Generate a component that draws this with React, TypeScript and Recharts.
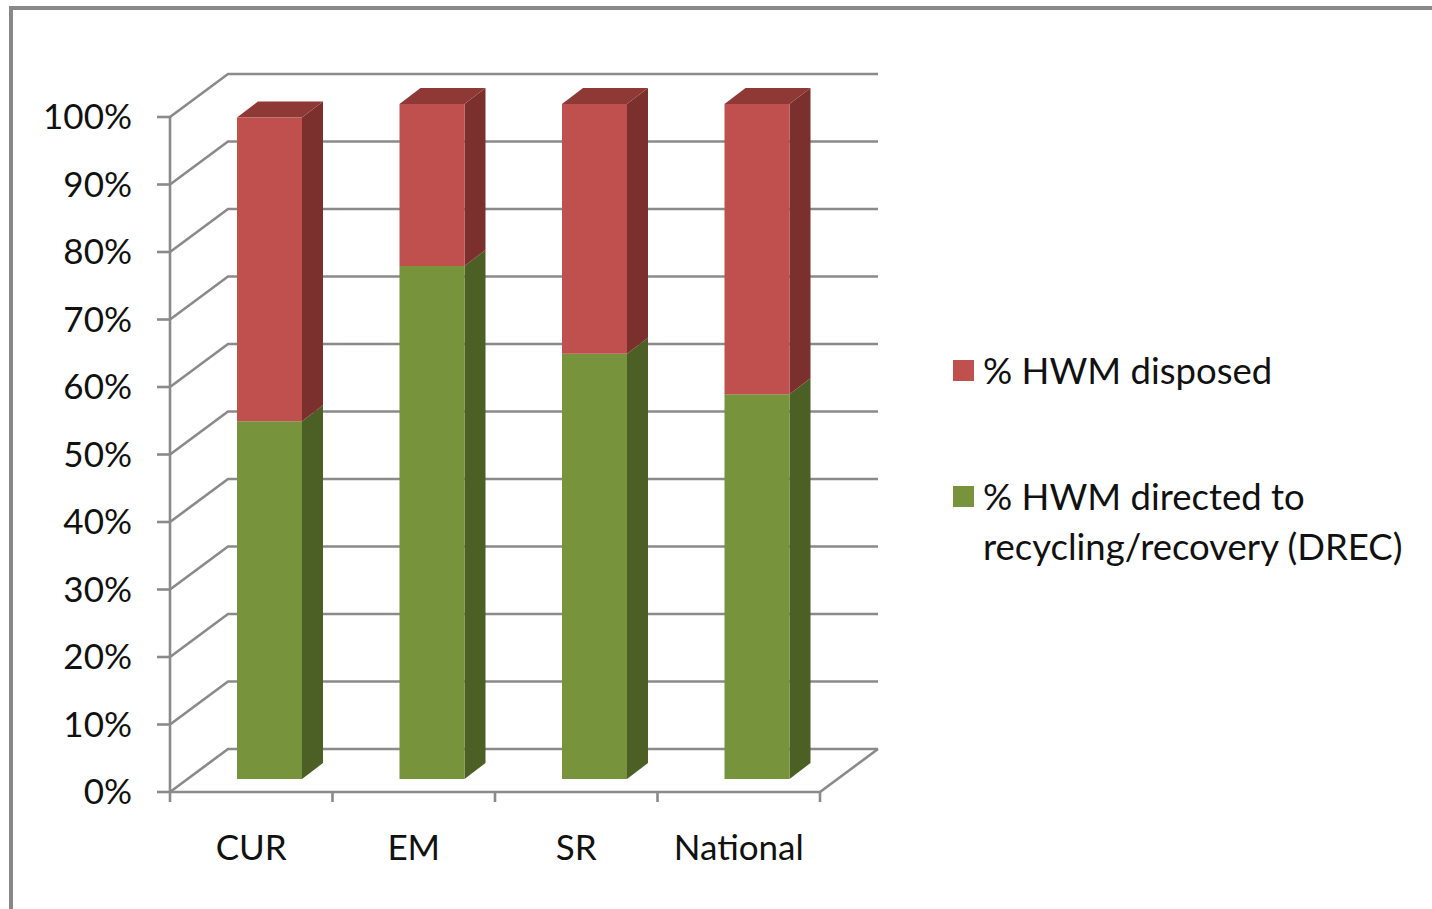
import { Bar, BarChart, CartesianGrid, Legend, XAxis, YAxis } from 'recharts';

// Share of hazardous waste management (HWM), per region
const regions = ['CUR', 'EM', 'SR', 'National'];
const recycledShare = [53, 76, 63, 57];
const disposedShare = [45, 24, 37, 43];
const percentTicks = [0, 10, 20, 30, 40, 50, 60, 70, 80, 90, 100];

const RECYCLED_NAME = '% HWM directed to recycling/recovery (DREC)';
const DISPOSED_NAME = '% HWM disposed';

const data = regions.map((region, i) => ({
  region,
  recycled: recycledShare[i],
  disposed: disposedShare[i],
}));

const WIDTH = 1432;
const HEIGHT = 909;
const PLOT_LEFT = 170;
const PLOT_RIGHT = 820;
const PLOT_TOP = 117;
const PLOT_BOTTOM = 792;
const X_AXIS_HEIGHT = 60;

// fake 3d projection: back wall offset, bar plane offset, bar depth
const WALL_DX = 58;
const WALL_DY = -43;
const BAR_DX = 18;
const BAR_DY = -13;
const SIDE_DX = 21;
const SIDE_DY = -16;

const FONT = 'Lato, "Open Sans", sans-serif';
const LINE = '#8a8a8a';
const LINE_W = 2.6;
const TEXT = '#111';

const RED = { front: '#c0504d', side: '#7c302e', top: '#8f3937' };
const GREEN = { front: '#77933c', side: '#4c5f25', top: '#5f7830' };

type Palette = typeof RED;

function Box3D(props: any) {
  const { x, y, width, height, palette, capped } = props as {
    x: number;
    y: number;
    width: number;
    height: number;
    palette: Palette;
    capped: boolean;
  };
  if (!height || height <= 0) return null;
  const fx = x + BAR_DX;
  const fy = y + BAR_DY;
  const bx = fx + width;
  const by = fy + height;
  const side = `M${bx},${fy}L${bx + SIDE_DX},${fy + SIDE_DY}L${bx + SIDE_DX},${by + SIDE_DY}L${bx},${by}Z`;
  const top = `M${fx},${fy}L${fx + SIDE_DX},${fy + SIDE_DY}L${bx + SIDE_DX},${fy + SIDE_DY}L${bx},${fy}Z`;
  return (
    <g>
      <path d={side} fill={palette.side} />
      {capped && <path d={top} fill={palette.top} />}
      <rect x={fx} y={fy} width={width} height={height} fill={palette.front} />
    </g>
  );
}

// each horizontal grid line runs along the left wall and then across the back wall
const renderWallLine = (props: any) => {
  const { x1, y1, x2 } = props;
  const backY = y1 + WALL_DY;
  const isFloor = Math.abs(y1 - PLOT_BOTTOM) < 1;
  return (
    <g key={`wall-${y1}`}>
      <path
        d={`M${x1},${y1}L${x1 + WALL_DX},${backY}L${x2 + WALL_DX},${backY}`}
        fill="none"
        stroke={LINE}
        strokeWidth={LINE_W}
      />
      {isFloor && (
        <line x1={x2} y1={y1} x2={x2 + WALL_DX} y2={backY} stroke={LINE} strokeWidth={LINE_W} />
      )}
    </g>
  );
};

const TICK_SIZE = 10;
const TICK_GAP = 33;

function RegionTick(props: any) {
  const { x, y, payload, index, visibleTicksCount } = props;
  const half = payload?.offset ?? (PLOT_RIGHT - PLOT_LEFT) / regions.length / 2;
  const lineTop = y - TICK_GAP - TICK_SIZE;
  const lineBottom = y - TICK_GAP;
  const last = index === visibleTicksCount - 1;
  return (
    <g>
      <line x1={x - half} y1={lineTop} x2={x - half} y2={lineBottom} stroke={LINE} strokeWidth={LINE_W} />
      {last && (
        <line x1={x + half} y1={lineTop} x2={x + half} y2={lineBottom} stroke={LINE} strokeWidth={LINE_W} />
      )}
      <text x={x} y={y} dy="0.71em" textAnchor="middle" fill={TEXT} fontSize={35} fontFamily={FONT}>
        {payload.value}
      </text>
    </g>
  );
}

function LegendBox(props: any) {
  const items = [...(props.payload ?? [])].reverse();
  return (
    <div style={{ fontFamily: FONT, fontSize: 36.5, lineHeight: '50px', color: TEXT }}>
      {items.map((item: any, i: number) => (
        <div key={item.value} style={{ display: 'flex', alignItems: 'flex-start', marginTop: i === 0 ? 0 : 76 }}>
          <span
            style={{
              display: 'inline-block',
              width: 21,
              height: 21,
              marginTop: 15,
              marginRight: 9,
              flex: '0 0 auto',
              background: item.color,
            }}
          />
          <span style={{ width: 450 }}>{item.value}</span>
        </div>
      ))}
    </div>
  );
}

export default function App() {
  return (
    <div
      style={{
        position: 'absolute',
        left: 0,
        top: 0,
        width: WIDTH,
        height: HEIGHT,
        overflow: 'hidden',
        background: '#fff',
      }}
    >
      <div
        style={{
          position: 'absolute',
          left: 9,
          top: 6,
          width: WIDTH,
          height: HEIGHT,
          borderLeft: `4px solid #888`,
          borderTop: `4px solid #888`,
        }}
      />
      <BarChart
        width={WIDTH}
        height={HEIGHT}
        data={data}
        margin={{
          top: PLOT_TOP,
          left: 0,
          right: WIDTH - PLOT_RIGHT,
          bottom: HEIGHT - PLOT_BOTTOM - X_AXIS_HEIGHT,
        }}
      >
        <CartesianGrid vertical={false} horizontal={renderWallLine} stroke={LINE} />
        <XAxis
          dataKey="region"
          height={X_AXIS_HEIGHT}
          axisLine={{ stroke: LINE, strokeWidth: LINE_W }}
          tickLine={false}
          tickSize={TICK_SIZE}
          tickMargin={TICK_GAP}
          interval={0}
          tick={<RegionTick />}
        />
        <YAxis
          width={PLOT_LEFT}
          domain={[0, 100]}
          ticks={percentTicks}
          interval={0}
          tickFormatter={(v) => `${v}%`}
          axisLine={{ stroke: LINE, strokeWidth: LINE_W }}
          tickLine={{ stroke: LINE, strokeWidth: LINE_W }}
          tickSize={13}
          tickMargin={25}
          tick={{ fill: TEXT, fontSize: 35, fontFamily: FONT }}
        />
        <Bar
          dataKey="recycled"
          name={RECYCLED_NAME}
          stackId="hwm"
          fill={GREEN.front}
          barSize={65}
          isAnimationActive={false}
          shape={(p: any) => <Box3D {...p} palette={GREEN} capped={false} />}
        />
        <Bar
          dataKey="disposed"
          name={DISPOSED_NAME}
          stackId="hwm"
          fill={RED.front}
          barSize={65}
          isAnimationActive={false}
          shape={(p: any) => <Box3D {...p} palette={RED} capped />}
        />
        <Legend
          layout="vertical"
          align="center"
          verticalAlign="middle"
          wrapperStyle={{ left: 953, top: 345, width: 479 }}
          content={<LegendBox />}
        />
      </BarChart>
    </div>
  );
}
